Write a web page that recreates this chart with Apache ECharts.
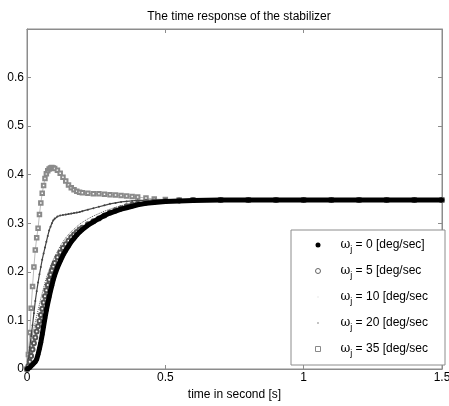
<!DOCTYPE html>
<html>
<head>
<meta charset="utf-8">
<title>The time response of the stabilizer</title>
<script src="https://cdn.jsdelivr.net/npm/echarts@6/dist/echarts.min.js"></script>
<style>
  html, body { margin: 0; padding: 0; background: #fff; }
  #chart { width: 449px; height: 406px; }
</style>
</head>
<body>
<div id="chart"></div>
<script>
// time samples [s]
var times = [0, 0.005, 0.01, 0.015, 0.02, 0.025, 0.03, 0.035, 0.04, 0.045, 0.05,
  0.055, 0.06, 0.065, 0.07, 0.075, 0.08, 0.085, 0.09, 0.095, 0.1,
  0.11, 0.12, 0.13, 0.14, 0.15, 0.16, 0.17, 0.18, 0.19, 0.2,
  0.22, 0.24, 0.26, 0.28, 0.3, 0.32, 0.34, 0.36, 0.38, 0.4,
  0.43, 0.46, 0.5, 0.55, 0.6, 0.7, 0.8, 0.9, 1.0, 1.1, 1.2, 1.3, 1.4, 1.5];

// responses
var w0 = [0, 0.001, 0.003, 0.006, 0.009, 0.012, 0.015, 0.02, 0.03, 0.042, 0.055,
  0.071, 0.088, 0.105, 0.121, 0.135, 0.148, 0.161, 0.172, 0.184, 0.193,
  0.209, 0.222, 0.234, 0.244, 0.253, 0.262, 0.269, 0.276, 0.282, 0.287,
  0.296, 0.303, 0.31, 0.316, 0.321, 0.325, 0.329, 0.332, 0.335, 0.338,
  0.341, 0.343, 0.345, 0.346, 0.347, 0.348, 0.348, 0.348, 0.348, 0.348, 0.348, 0.348, 0.348, 0.348];
var w5 = [0, 0.006, 0.015, 0.027, 0.04, 0.053, 0.065, 0.077, 0.088, 0.099, 0.111,
  0.124, 0.137, 0.15, 0.162, 0.173, 0.184, 0.194, 0.203, 0.211, 0.218,
  0.23, 0.24, 0.249, 0.257, 0.264, 0.271, 0.277, 0.282, 0.287, 0.291,
  0.298, 0.304, 0.31, 0.316, 0.322, 0.327, 0.331, 0.335, 0.338, 0.34,
  0.343, 0.345, 0.346, 0.347, 0.348, 0.348, 0.348, 0.348, 0.348, 0.348, 0.348, 0.348, 0.348, 0.348];
var w10 = [0, 0.012, 0.03, 0.053, 0.07, 0.084, 0.097, 0.109, 0.121, 0.133, 0.145,
  0.156, 0.167, 0.178, 0.187, 0.196, 0.204, 0.211, 0.218, 0.225, 0.231,
  0.242, 0.253, 0.262, 0.27, 0.277, 0.283, 0.288, 0.293, 0.298, 0.302,
  0.309, 0.315, 0.32, 0.325, 0.329, 0.333, 0.336, 0.339, 0.341, 0.343,
  0.345, 0.346, 0.347, 0.348, 0.348, 0.348, 0.348, 0.348, 0.348, 0.348, 0.348, 0.348, 0.348, 0.348];
var w20 = [0, 0.02, 0.045, 0.068, 0.09, 0.115, 0.14, 0.16, 0.178, 0.195, 0.21,
  0.225, 0.238, 0.25, 0.262, 0.274, 0.285, 0.293, 0.3, 0.306, 0.31,
  0.314, 0.316, 0.317, 0.318, 0.319, 0.32, 0.321, 0.322, 0.323, 0.325,
  0.328, 0.331, 0.334, 0.337, 0.34, 0.342, 0.344, 0.345, 0.346, 0.347,
  0.347, 0.348, 0.348, 0.348, 0.348, 0.348, 0.348, 0.348, 0.348, 0.348, 0.348, 0.348, 0.348, 0.348];
var w35 = [0, 0.03, 0.075, 0.125, 0.17, 0.21, 0.245, 0.27, 0.29, 0.318, 0.342,
  0.362, 0.378, 0.392, 0.402, 0.408, 0.412, 0.414, 0.415, 0.414, 0.413,
  0.409, 0.403, 0.395, 0.387, 0.379, 0.373, 0.369, 0.366, 0.364, 0.363,
  0.362, 0.361, 0.361, 0.36, 0.359, 0.358, 0.357, 0.356, 0.355, 0.354,
  0.352, 0.35, 0.349, 0.348, 0.348, 0.348, 0.348, 0.348, 0.348, 0.348, 0.348, 0.348, 0.348, 0.348];

var omegas = ['0', '5', '10', '20', '35'];
var tails = [' [deg/sec]', ' [deg/sec', ' [deg/sec', ' [deg/sec', ' [deg/sec'];

function pairs(v) {
  return times.map(function (t, i) { return [t, v[i]]; });
}

var chart = echarts.init(document.getElementById('chart'));
var font = 'Liberation Sans';
var axisGrey = '#8c8c8c';

var names = omegas.map(function (w) { return 'w' + w; });
var labels = {};
omegas.forEach(function (w, i) {
  labels[names[i]] = '{w|ω}{j|j}{t| = ' + w + tails[i] + '}';
});

// small legend marks: tiny corner specks keep the mark small inside its box
var dotIcon = 'path://M0,0h.01v.01h-.01zM2.6,2.6h.8v.8h-.8zM6,6h-.01v-.01h.01z';
var plusIcon = 'path://M0,0h.01v.01h-.01zM2.6,1.8h.8v2.4h-.8zM1.8,2.6h2.4v.8h-2.4zM6,6h-.01v-.01h.01z';

function axisTicks(extra) {
  return Object.assign({
    axisLine: { show: true, onZero: false, lineStyle: { color: axisGrey } },
    axisTick: { show: true, inside: true, length: 4, lineStyle: { color: axisGrey } },
    splitLine: { show: false }
  }, extra);
}

var option = {
  animation: false,
  backgroundColor: '#fff',
  title: {
    text: 'The time response of the stabilizer',
    left: 234, textAlign: 'center', top: 6,
    textStyle: { fontFamily: font, fontSize: 12, fontWeight: 'normal', color: '#000' }
  },
  grid: {
    left: 27, right: 7, top: 29, bottom: 37,
    outerBoundsMode: 'none', containLabel: false,
    show: true, borderColor: axisGrey, borderWidth: 1, backgroundColor: 'transparent'
  },
  xAxis: [axisTicks({
    type: 'value', min: 0, max: 1.5, interval: 0.5,
    name: 'time in second [s]', nameLocation: 'middle', nameGap: 13,
    nameTextStyle: { fontFamily: font, fontSize: 12, color: '#000' },
    axisLabel: { fontFamily: font, fontSize: 12, color: '#000', margin: 3 }
  }), axisTicks({
    type: 'value', min: 0, max: 1.5, interval: 0.5, position: 'top',
    axisLabel: { show: false }
  })],
  yAxis: [axisTicks({
    type: 'value', min: 0, max: 0.7, interval: 0.1,
    axisLabel: { fontFamily: font, fontSize: 12, color: '#000', margin: 3,
      formatter: function (v) { return v > 0.65 ? '' : String(+v.toFixed(1)); } }
  }), axisTicks({
    type: 'value', min: 0, max: 0.7, interval: 0.1, position: 'right',
    axisLabel: { show: false }
  })],
  legend: {
    orient: 'vertical', left: 291, top: 230,
    padding: [9, 17, 7, 24],
    itemWidth: 5, itemHeight: 5, itemGap: 11,
    backgroundColor: '#fff', borderColor: axisGrey, borderWidth: 1, borderRadius: 0,
    data: [
      { name: names[0], icon: 'circle', itemStyle: { color: '#000' } },
      { name: names[1], icon: 'circle', itemStyle: { color: '#fff', borderColor: '#666', borderWidth: 1 } },
      { name: names[2], icon: dotIcon, itemStyle: { color: '#777' } },
      { name: names[3], icon: plusIcon, itemStyle: { color: '#888' } },
      { name: names[4], icon: 'rect', itemStyle: { color: '#fff', borderColor: '#888', borderWidth: 1 } }
    ],
    formatter: function (n) { return labels[n]; },
    textStyle: {
      fontFamily: font, fontSize: 12, color: '#000',
      rich: {
        w: { fontFamily: 'DejaVu Serif', fontSize: 12, lineHeight: 18, verticalAlign: 'middle', padding: [0, 0, 0, 15] },
        j: { fontFamily: font, fontSize: 9, lineHeight: 9, verticalAlign: 'bottom' },
        t: { fontFamily: font, fontSize: 12, lineHeight: 18, verticalAlign: 'middle' }
      }
    }
  },
  series: [
    {
      name: names[0], type: 'line', data: pairs(w0), z: 6,
      symbol: 'circle', symbolSize: 4.5, showAllSymbol: true,
      itemStyle: { color: '#000' },
      lineStyle: { color: '#000', width: 5 }
    },
    {
      name: names[1], type: 'line', data: pairs(w5), z: 4,
      symbol: 'emptyCircle', symbolSize: 4, showAllSymbol: true,
      itemStyle: { color: '#555', borderWidth: 1 },
      lineStyle: { color: '#888', width: 2.5 }
    },
    {
      name: names[2], type: 'line', data: pairs(w10), z: 3,
      symbol: 'none',
      lineStyle: { color: '#555', width: 1, type: 'dotted' }
    },
    {
      name: names[3], type: 'line', data: pairs(w20), z: 3,
      symbol: 'circle', symbolSize: 2, showAllSymbol: true,
      itemStyle: { color: '#444' },
      lineStyle: { color: '#444', width: 1.2 }
    },
    {
      name: names[4], type: 'line', data: pairs(w35), z: 2,
      symbol: 'emptyRect', symbolSize: 3.5, showAllSymbol: true,
      itemStyle: { color: '#8a8a8a', borderWidth: 1 },
      lineStyle: { color: '#aaa', width: 0.8 }
    },
    {
      // keeps the top and right tick axes alive
      name: 'box', type: 'line', xAxisIndex: 1, yAxisIndex: 1, data: [],
      silent: true, symbol: 'none'
    }
  ]
};

chart.setOption(option);
</script>
</body>
</html>
